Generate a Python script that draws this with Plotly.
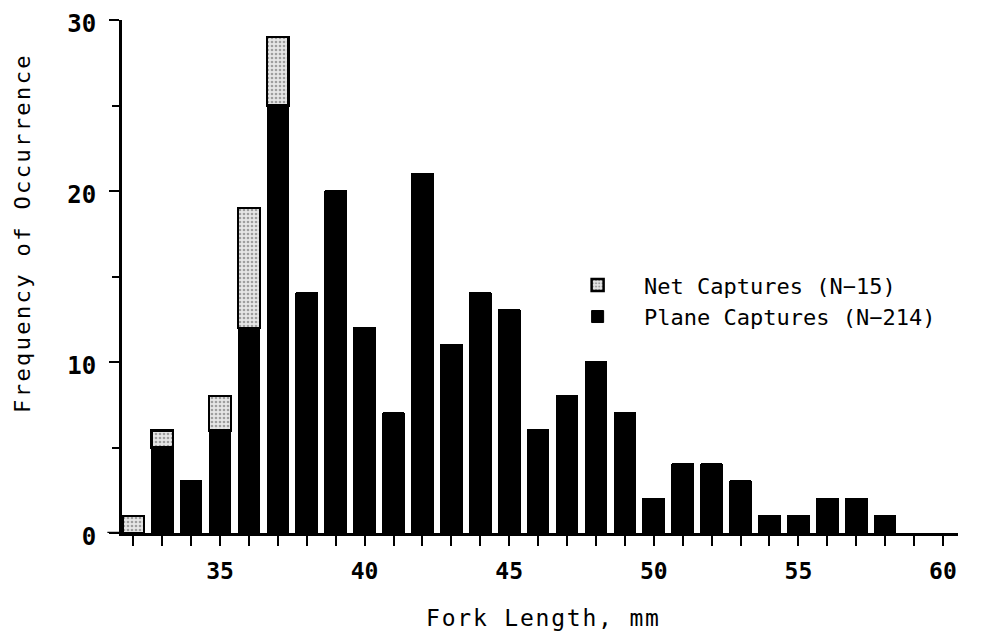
import plotly.graph_objects as go

# Data
fork_length = [32, 33, 34, 35, 36, 37, 38, 39, 40, 41, 42, 43, 44, 45,
               46, 47, 48, 49, 50, 51, 52, 53, 54, 55, 56, 57, 58]
plane_captures = [0, 5, 3, 6, 12, 25, 14, 20, 12, 7, 21, 11, 14, 13,
                  6, 8, 10, 7, 2, 4, 4, 3, 1, 1, 2, 2, 1]
net_captures = [1, 1, 0, 2, 7, 4, 0, 0, 0, 0, 0, 0, 0, 0,
                0, 0, 0, 0, 0, 0, 0, 0, 0, 0, 0, 0, 0]

x_tick_vals = [32, 33, 34, 35, 36, 37, 38, 39, 40, 41, 42, 43, 44, 45, 46,
               47, 48, 49, 50, 51, 52, 53, 54, 55, 56, 57, 58, 59, 60]
x_tick_text = ["", "", "", "35", "", "", "", "", "40", "", "", "", "", "45", "",
               "", "", "", "50", "", "", "", "", "55", "", "", "", "", "60"]
y_tick_vals = [0, 10, 20, 30]
y_tick_text = ["0", "10", "20", "30"]

FONT = "DejaVu Sans Mono"
NB = "\u00a0\u00a0"

fig = go.Figure()
fig.add_trace(go.Bar(
    x=fork_length, y=plane_captures, name=NB + "Plane Captures (N\u2212214)",
    width=0.75,
    marker=dict(color="black", line=dict(color="black", width=1)),
))
fig.add_trace(go.Bar(
    x=fork_length, y=net_captures, name=NB + "Net Captures (N\u221215)",
    width=0.75,
    marker=dict(color="#d8d8d8",
                line=dict(color="black", width=2.5),
                pattern=dict(shape=".", fgcolor="#555555", bgcolor="#e6e6e6",
                             size=4, solidity=0.35)),
))

# page body has an 8px margin: figure is drawn at (8, 8)
fig.update_layout(
    barmode="stack",
    width=982, height=626,
    margin=dict(l=114, r=32, t=12, b=101, autoexpand=False),
    paper_bgcolor="white", plot_bgcolor="white",
    font=dict(family=FONT, color="black"),
    showlegend=True,
    legend=dict(
        x=0.545, y=0.452, xanchor="left", yanchor="middle",
        traceorder="reversed",
        font=dict(family=FONT, size=22, color="black"),
        bgcolor="rgba(0,0,0,0)",
        itemclick=False,
    ),
    xaxis=dict(
        range=[31.61, 60.52],
        automargin=False,
        tickmode="array", tickvals=x_tick_vals, ticktext=x_tick_text,
        ticks="outside", ticklen=10, tickwidth=2, tickcolor="black",
        ticklabelstandoff=6, ticklabeloverflow="allow",
        showline=True, linecolor="black", linewidth=2.5,
        showgrid=False, zeroline=False,
        tickfont=dict(family=FONT, size=23, color="black", weight="bold"),
    ),
    yaxis=dict(
        range=[0, 30],
        automargin=False,
        tickmode="array", tickvals=y_tick_vals, ticktext=y_tick_text,
        ticks="outside", ticklen=10, tickwidth=2, tickcolor="black",
        ticklabelstandoff=8, ticklabeloverflow="allow", ticklabelshift=4,
        minor=dict(tickmode="array", tickvals=[5, 15, 25], ticks="outside",
                   ticklen=7, tickwidth=2, tickcolor="black"),
        showline=True, linecolor="black", linewidth=3,
        showgrid=False, zeroline=False,
        tickfont=dict(family=FONT, size=24, color="black", weight="bold"),
    ),
    annotations=[
        dict(text='<span style="letter-spacing:2.4px">Frequency of Occurrence</span>',
             x=-0.1184, y=0.585, xref="paper", yref="paper",
             xanchor="center", yanchor="middle", textangle=-90, showarrow=False,
             font=dict(family=FONT, size=22, color="black")),
        dict(text='<span style="letter-spacing:1.8px">Fork Length, mm</span>',
             x=0.5036, y=-0.1657, xref="paper", yref="paper",
             xanchor="center", yanchor="middle", showarrow=False,
             font=dict(family=FONT, size=23, color="black")),
    ],
    shapes=[
        dict(type="line", xref="paper", yref="y", x0=-0.0175, x1=0.0, y0=0, y1=0,
             line=dict(color="black", width=2.5)),
    ],
)

fig.write_html("out.html")
